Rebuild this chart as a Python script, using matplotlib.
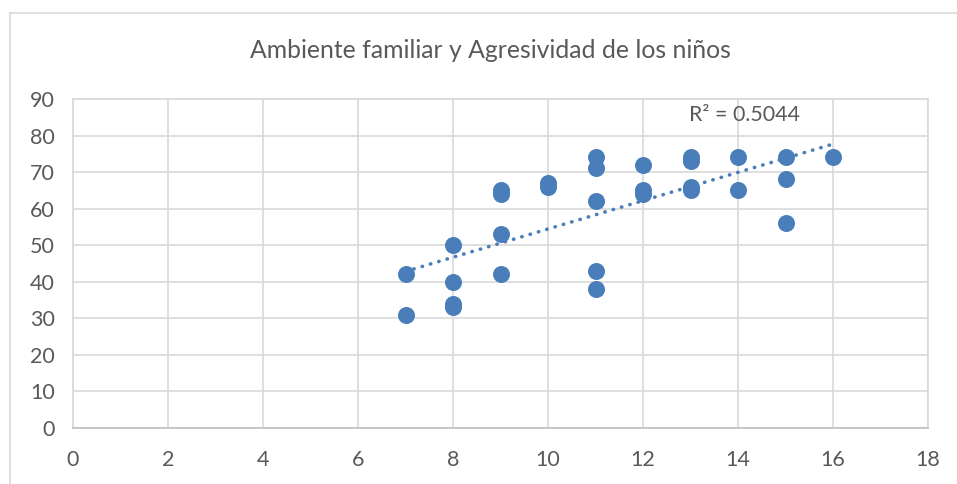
import matplotlib
matplotlib.use("Agg")
import matplotlib.pyplot as plt
import numpy as np
from matplotlib.lines import Line2D

# Data
x_vals = [7, 7,
          8, 8, 8, 8,
          9, 9, 9, 9,
          10, 10,
          11, 11, 11, 11, 11,
          12, 12, 12,
          13, 13, 13, 13,
          14, 14,
          15, 15, 15,
          16]
y_vals = [42, 31,
          50, 40, 34, 33,
          65, 64, 53, 42,
          67, 66,
          74, 71, 62, 43, 38,
          72, 65, 64,
          74, 73, 66, 65,
          74, 65,
          74, 68, 56,
          74]
x_ticks = [0, 2, 4, 6, 8, 10, 12, 14, 16, 18]
y_ticks = [0, 10, 20, 30, 40, 50, 60, 70, 80, 90]
title = "Ambiente familiar y Agresividad de los niños"
r2_label = "R² = 0.5044"

color = "#4a7ebb"
text_color = "#595959"
grid_color = "#d9d9d9"
plt.rcParams["font.family"] = ["Lato", "DejaVu Sans"]

fig = plt.figure(figsize=(9.57, 4.84), dpi=100)
ax = fig.add_axes([73/957, 1-428/484, (928-73)/957, (428-99)/484])

ax.scatter(x_vals, y_vals, s=150, color=color, zorder=3, linewidths=0)

# linear trend line
xa = np.array(x_vals, dtype=float)
ya = np.array(y_vals, dtype=float)
m, b = np.polyfit(xa, ya, 1)
xt = np.array([xa.min(), xa.max()])
ax.plot(xt, m*xt + b, color=color, lw=2.6, linestyle=(0, (0.1, 2.3)),
        dash_capstyle="round", solid_capstyle="round", zorder=4)

ax.set_xlim(0, 18)
ax.set_ylim(0, 90)
ax.set_xticks(x_ticks)
ax.set_yticks(y_ticks)
ax.grid(True, color=grid_color, lw=1.2, zorder=0)
ax.set_axisbelow(True)
for s in ["left", "right", "top"]:
    ax.spines[s].set_color(grid_color)
    ax.spines[s].set_linewidth(1.2)
ax.spines["bottom"].set_color("#bfbfbf")
ax.spines["bottom"].set_linewidth(1.2)
ax.tick_params(axis="both", length=0, labelsize=15.5, colors=text_color)
ax.tick_params(axis="x", pad=16)
ax.tick_params(axis="y", pad=13)

ax.text(14.14, 85.6, r2_label, ha="center", va="center", fontsize=15.4, color=text_color)

fig.text(490/957, 1-50/484, title, ha="center", va="center", fontsize=17.8, color=text_color)

# chart border (left and top edges visible in reference)
fig.add_artist(Line2D([10/957, 10/957], [0, 1-13/484], transform=fig.transFigure,
                      color=grid_color, lw=1.2))
fig.add_artist(Line2D([10/957, 1], [1-13/484, 1-13/484], transform=fig.transFigure,
                      color=grid_color, lw=1.2))

fig.savefig("out.png", dpi=100)
